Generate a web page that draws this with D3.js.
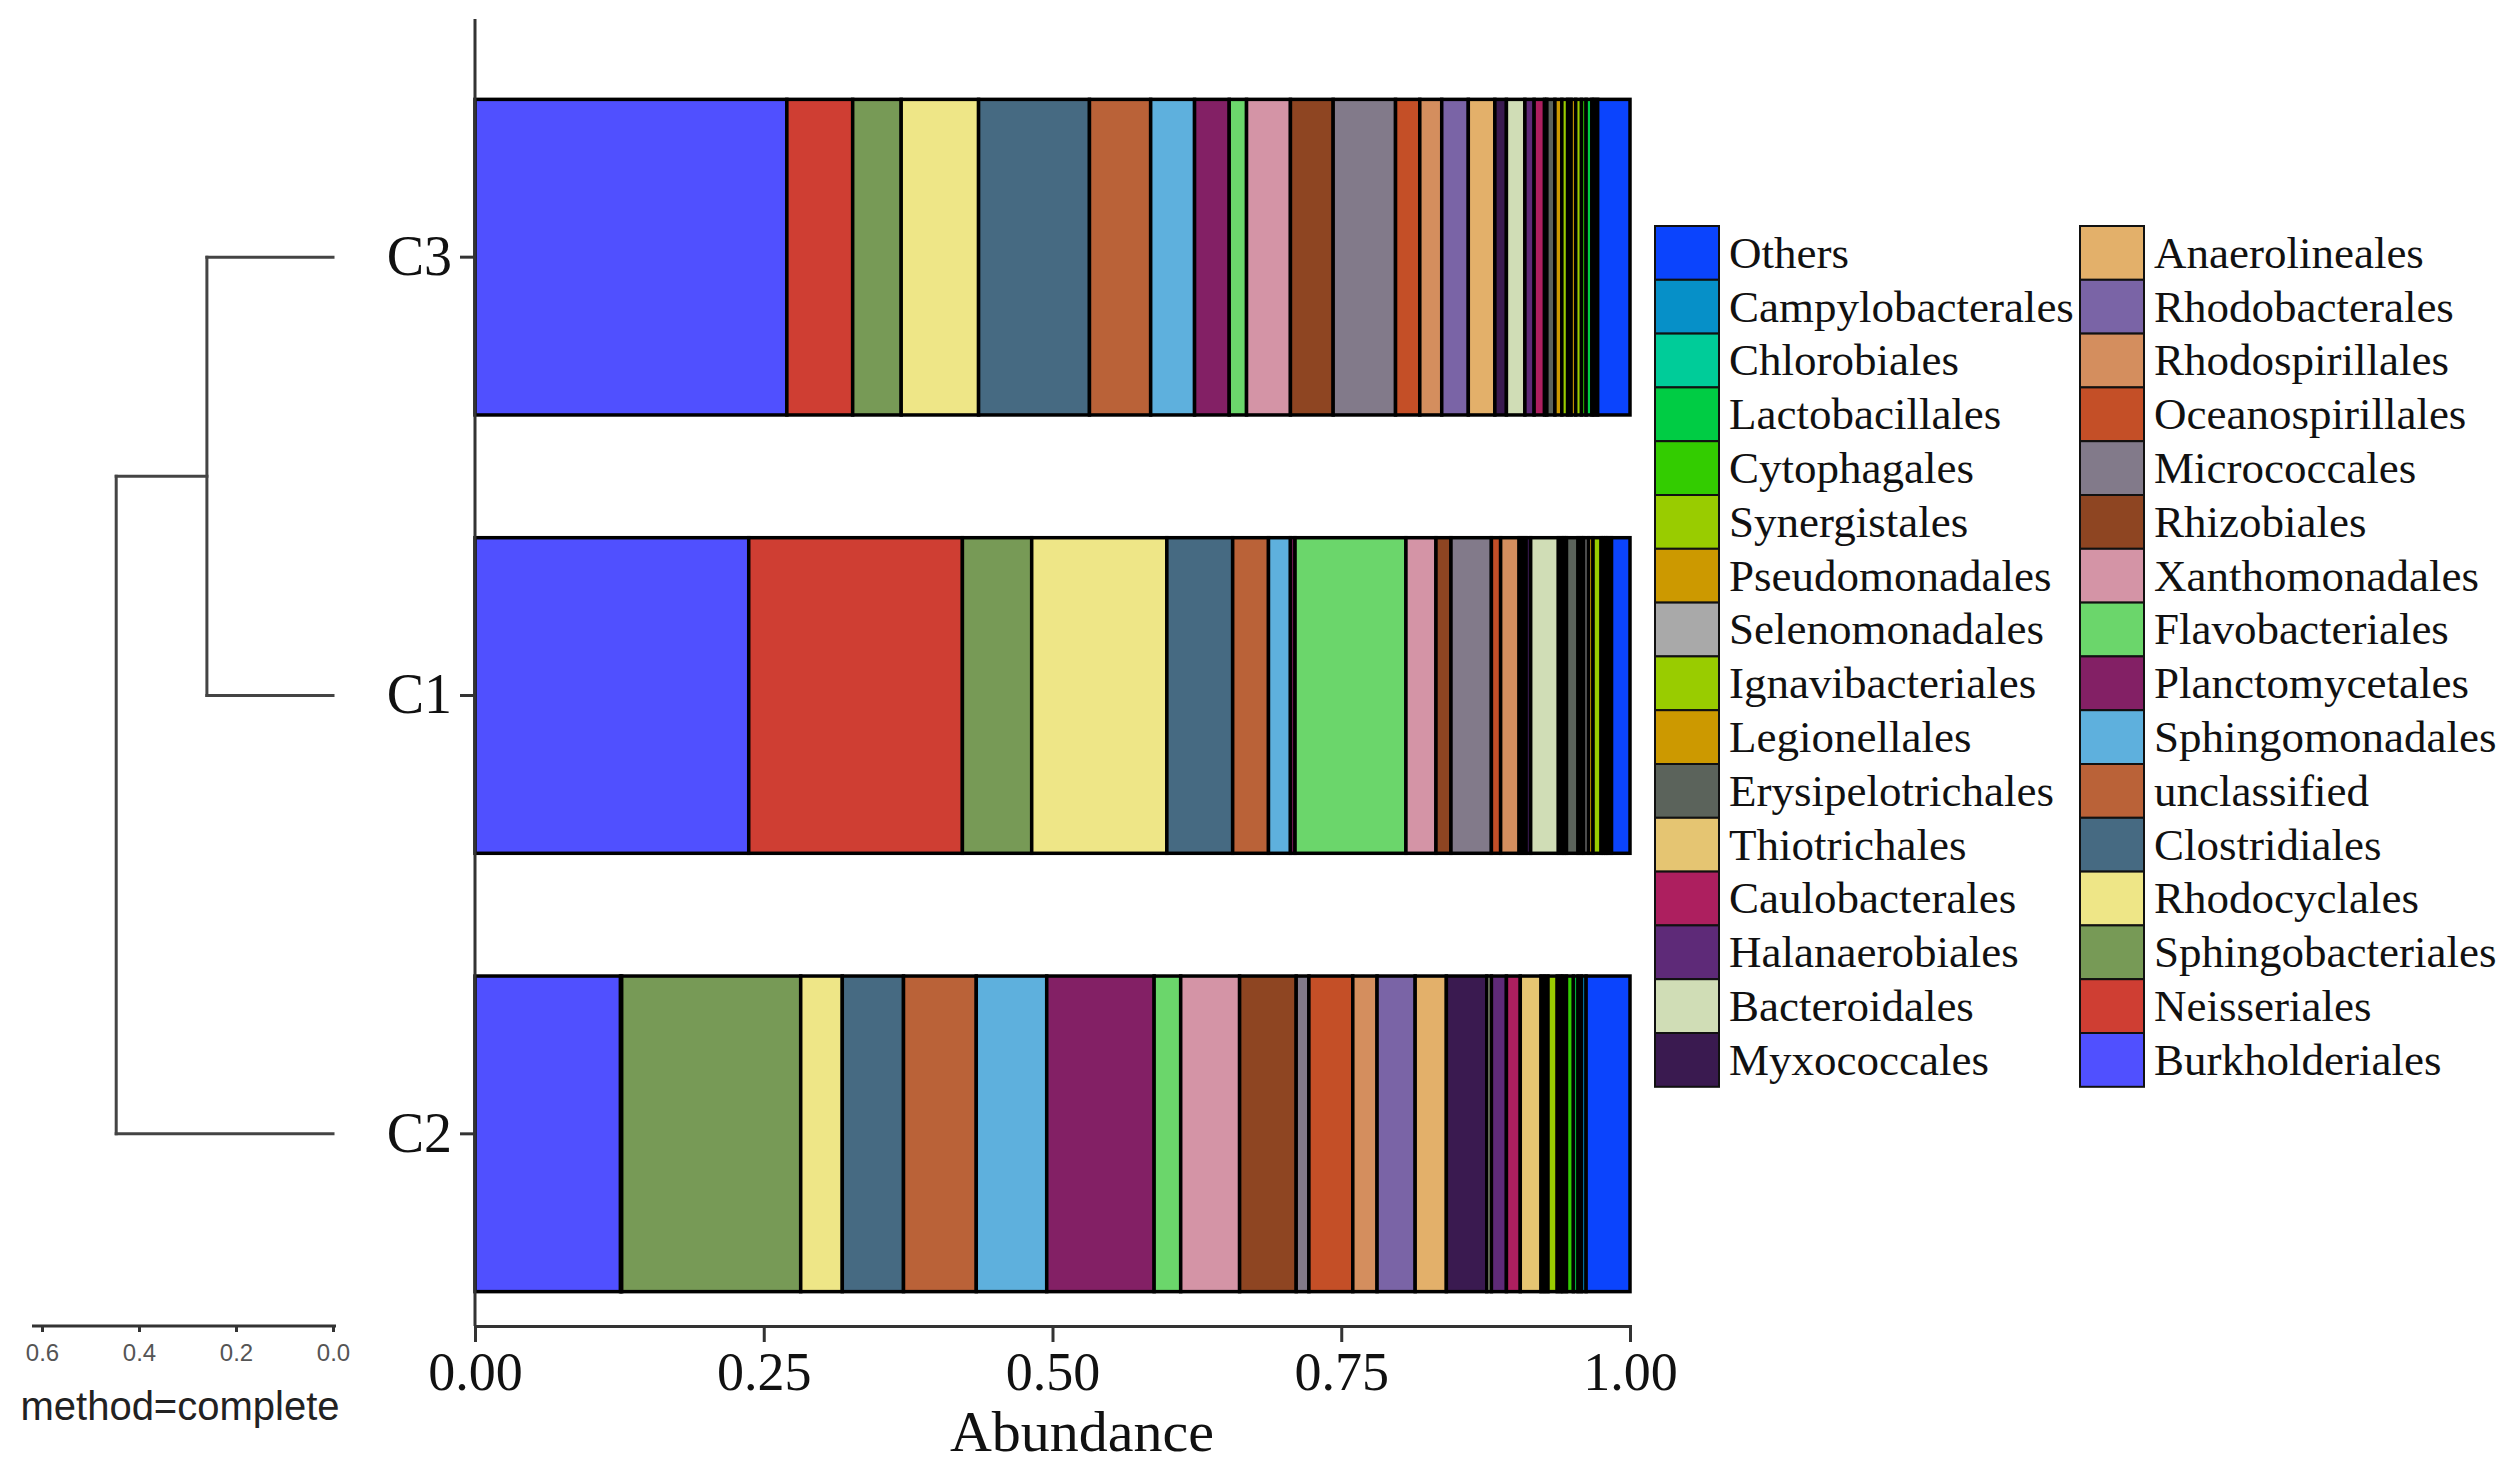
<!DOCTYPE html>
<html>
<head>
<meta charset="utf-8">
<script src="https://cdn.jsdelivr.net/npm/d3@7"></script>
<style>
  body { margin: 0; background: #fff; }
  svg { display: block; }
</style>
</head>
<body>
<script>
// stacked order abundance per sample, with a small dendrogram on the left

const svgWidth = 2520;
const svgHeight = 1476;

const samples = ["C3", "C1", "C2"];

// stacking order, left to right
const orders = [
    "Burkholderiales", "Neisseriales", "Sphingobacteriales", "Rhodocyclales",
    "Clostridiales", "unclassified", "Sphingomonadales", "Planctomycetales",
    "Flavobacteriales", "Xanthomonadales", "Rhizobiales", "Micrococcales",
    "Oceanospirillales", "Rhodospirillales", "Rhodobacterales", "Anaerolineales",
    "Myxococcales", "Bacteroidales", "Halanaerobiales", "Caulobacterales",
    "Thiotrichales", "Erysipelotrichales", "Legionellales", "Ignavibacteriales",
    "Selenomonadales", "Pseudomonadales", "Synergistales", "Cytophagales",
    "Lactobacillales", "Chlorobiales", "Campylobacterales", "Others"
];

const orderColors = [
    "#5050ff", "#cf3e33", "#779a56", "#eee687",
    "#466a82", "#ba6238", "#5eb0dd", "#832065",
    "#6bd66b", "#d494a6", "#8e4522", "#827a8a",
    "#c44f27", "#d48e5e", "#7a64a6", "#e3b06a",
    "#3a1a50", "#d0ddb6", "#5e2a78", "#ad1f5f",
    "#e5c572", "#5b635b", "#cc9900", "#99cc00",
    "#a9a9a9", "#cc9900", "#99cc00", "#33cc00",
    "#00cc44", "#00cc99", "#0690c8", "#0b44fd"
];

const valuesC3 = [
    0.270, 0.057, 0.042, 0.067, 0.096, 0.053, 0.038, 0.030,
    0.015, 0.038, 0.037, 0.054, 0.021, 0.019, 0.023, 0.023,
    0.010, 0.016, 0.008, 0.009, 0.002, 0.007, 0.006, 0.005,
    0.003, 0.004, 0.005, 0.004, 0.005, 0.002, 0.003, 0.028
];
const valuesC1 = [
    0.237, 0.185, 0.060, 0.117, 0.057, 0.031, 0.019, 0.004,
    0.096, 0.026, 0.013, 0.035, 0.008, 0.016, 0.003, 0.003,
    0.004, 0.024, 0.003, 0.002, 0.002, 0.010, 0.003, 0.002,
    0.004, 0.004, 0.007, 0.002, 0.002, 0.002, 0.003, 0.016
];
const valuesC2 = [
    0.126, 0.001, 0.155, 0.036, 0.053, 0.063, 0.061, 0.093,
    0.023, 0.051, 0.049, 0.011, 0.038, 0.021, 0.033, 0.027,
    0.035, 0.004, 0.013, 0.012, 0.018, 0.003, 0.003, 0.008,
    0.003, 0.002, 0.003, 0.006, 0.004, 0.003, 0.004, 0.038
];

const xTicks = [0, 0.25, 0.5, 0.75, 1];

// hierarchical clustering (complete linkage): C3+C1 first, then C2
const mergeC3C1 = 0.26;
const mergeRoot = 0.447;
const dendroTicks = [0, 0.2, 0.4, 0.6];

const svg = d3.select("body")
    .append("svg")
    .attr("width", svgWidth)
    .attr("height", svgHeight);

const serif = "'Liberation Serif', 'Times New Roman', serif";
const sans = "'Liberation Sans', Arial, sans-serif";

const plotLeft = 475, plotRight = 1630;
const plotTop = 19, plotBottom = 1326;

const xScale = d3.scaleLinear()
    .domain([0, 1])
    .range([plotLeft, plotRight]);

const yScale = d3.scaleBand()
    .domain(samples)
    .range([38, 1353])
    .paddingInner(0.28)
    .paddingOuter(0.14);

const valuesBySample = { C3: valuesC3, C1: valuesC1, C2: valuesC2 };
const rows = samples.map(s => {
    const row = { sample: s };
    orders.forEach((o, i) => { row[o] = valuesBySample[s][i]; });
    return row;
});

const stacked = d3.stack().keys(orders)(rows);
const color = d3.scaleOrdinal().domain(orders).range(orderColors);

// bars
svg.append("g")
    .selectAll("g")
    .data(stacked)
    .enter()
    .append("g")
    .attr("fill", d => color(d.key))
    .selectAll("rect")
    .data(d => d)
    .enter()
    .append("rect")
    .attr("x", d => xScale(d[0]))
    .attr("y", d => yScale(d.data.sample))
    .attr("width", d => Math.max(0, xScale(d[1]) - xScale(d[0])))
    .attr("height", yScale.bandwidth())
    .attr("stroke", "#000")
    .attr("stroke-width", 3.5);

// y axis
const yAxis = svg.append("g")
    .attr("transform", `translate(${plotLeft}, 0)`)
    .call(d3.axisLeft(yScale).tickSize(15).tickPadding(8));
yAxis.select(".domain").remove();
yAxis.append("line")
    .attr("x1", 0).attr("x2", 0)
    .attr("y1", plotTop).attr("y2", plotBottom)
    .attr("stroke", "#333").attr("stroke-width", 3);
yAxis.selectAll(".tick line").attr("stroke", "#333").attr("stroke-width", 3);
yAxis.selectAll(".tick text")
    .attr("font-family", serif)
    .attr("font-size", 56)
    .attr("fill", "#111");

// x axis
const xAxis = svg.append("g")
    .attr("transform", `translate(0, ${plotBottom})`)
    .call(d3.axisBottom(xScale).tickValues(xTicks).tickFormat(d3.format(".2f")).tickSize(16).tickPadding(10));
xAxis.select(".domain").attr("stroke", "#333").attr("stroke-width", 3);
xAxis.selectAll(".tick line").attr("stroke", "#333").attr("stroke-width", 3);
xAxis.selectAll(".tick text")
    .attr("font-family", serif)
    .attr("font-size", 54)
    .attr("fill", "#111");

svg.append("text")
    .attr("x", 1082)
    .attr("y", 1451)
    .attr("text-anchor", "middle")
    .attr("font-family", serif)
    .attr("font-size", 58)
    .attr("fill", "#111")
    .text("Abundance");

// dendrogram
const dScale = d3.scaleLinear()
    .domain([0, 0.6])
    .range([333, 42]);

const yMid = s => yScale(s) + yScale.bandwidth() / 2;
const yJoin = (yMid("C3") + yMid("C1")) / 2;

const dendroSegments = [
    [0, yMid("C3"), mergeC3C1, yMid("C3")],
    [0, yMid("C1"), mergeC3C1, yMid("C1")],
    [mergeC3C1, yMid("C3"), mergeC3C1, yMid("C1")],
    [mergeC3C1, yJoin, mergeRoot, yJoin],
    [0, yMid("C2"), mergeRoot, yMid("C2")],
    [mergeRoot, yJoin, mergeRoot, yMid("C2")]
];

svg.append("g")
    .selectAll("line")
    .data(dendroSegments)
    .enter()
    .append("line")
    .attr("x1", d => dScale(d[0]))
    .attr("y1", d => d[1])
    .attr("x2", d => dScale(d[2]))
    .attr("y2", d => d[3])
    .attr("stroke", "#444")
    .attr("stroke-width", 3)
    .attr("stroke-linecap", "square");

const dAxis = svg.append("g")
    .attr("transform", `translate(0, ${plotBottom})`)
    .call(d3.axisBottom(dScale).tickValues(dendroTicks).tickFormat(d3.format(".1f")).tickSize(6).tickPadding(12));
dAxis.select(".domain").attr("d", "M32,0H336").attr("stroke", "#333").attr("stroke-width", 3);
dAxis.selectAll(".tick line").attr("stroke", "#333").attr("stroke-width", 3);
dAxis.selectAll(".tick text")
    .attr("font-family", sans)
    .attr("font-size", 24)
    .attr("fill", "#555");

svg.append("text")
    .attr("x", 180)
    .attr("y", 1420)
    .attr("text-anchor", "middle")
    .attr("font-family", sans)
    .attr("font-size", 40)
    .attr("fill", "#222")
    .text("method=complete");

// legend: reversed order, filled column by column
const legendOrders = orders.slice().reverse();
const perColumn = 16;
const colX = [1655, 2080];
const legendTop = 226;
const rowH = 53.8;
const keyW = 64;

const legend = svg.append("g")
    .selectAll("g")
    .data(legendOrders)
    .enter()
    .append("g")
    .attr("transform", (d, i) => `translate(${colX[Math.floor(i / perColumn)]}, ${legendTop + (i % perColumn) * rowH})`);

legend.append("rect")
    .attr("width", keyW)
    .attr("height", rowH)
    .attr("fill", d => color(d))
    .attr("stroke", "#111")
    .attr("stroke-width", 2);

legend.append("text")
    .attr("x", keyW + 10)
    .attr("y", rowH / 2 + 15)
    .attr("font-family", serif)
    .attr("font-size", 45)
    .attr("fill", "#111")
    .text(d => d);
</script>
</body>
</html>
